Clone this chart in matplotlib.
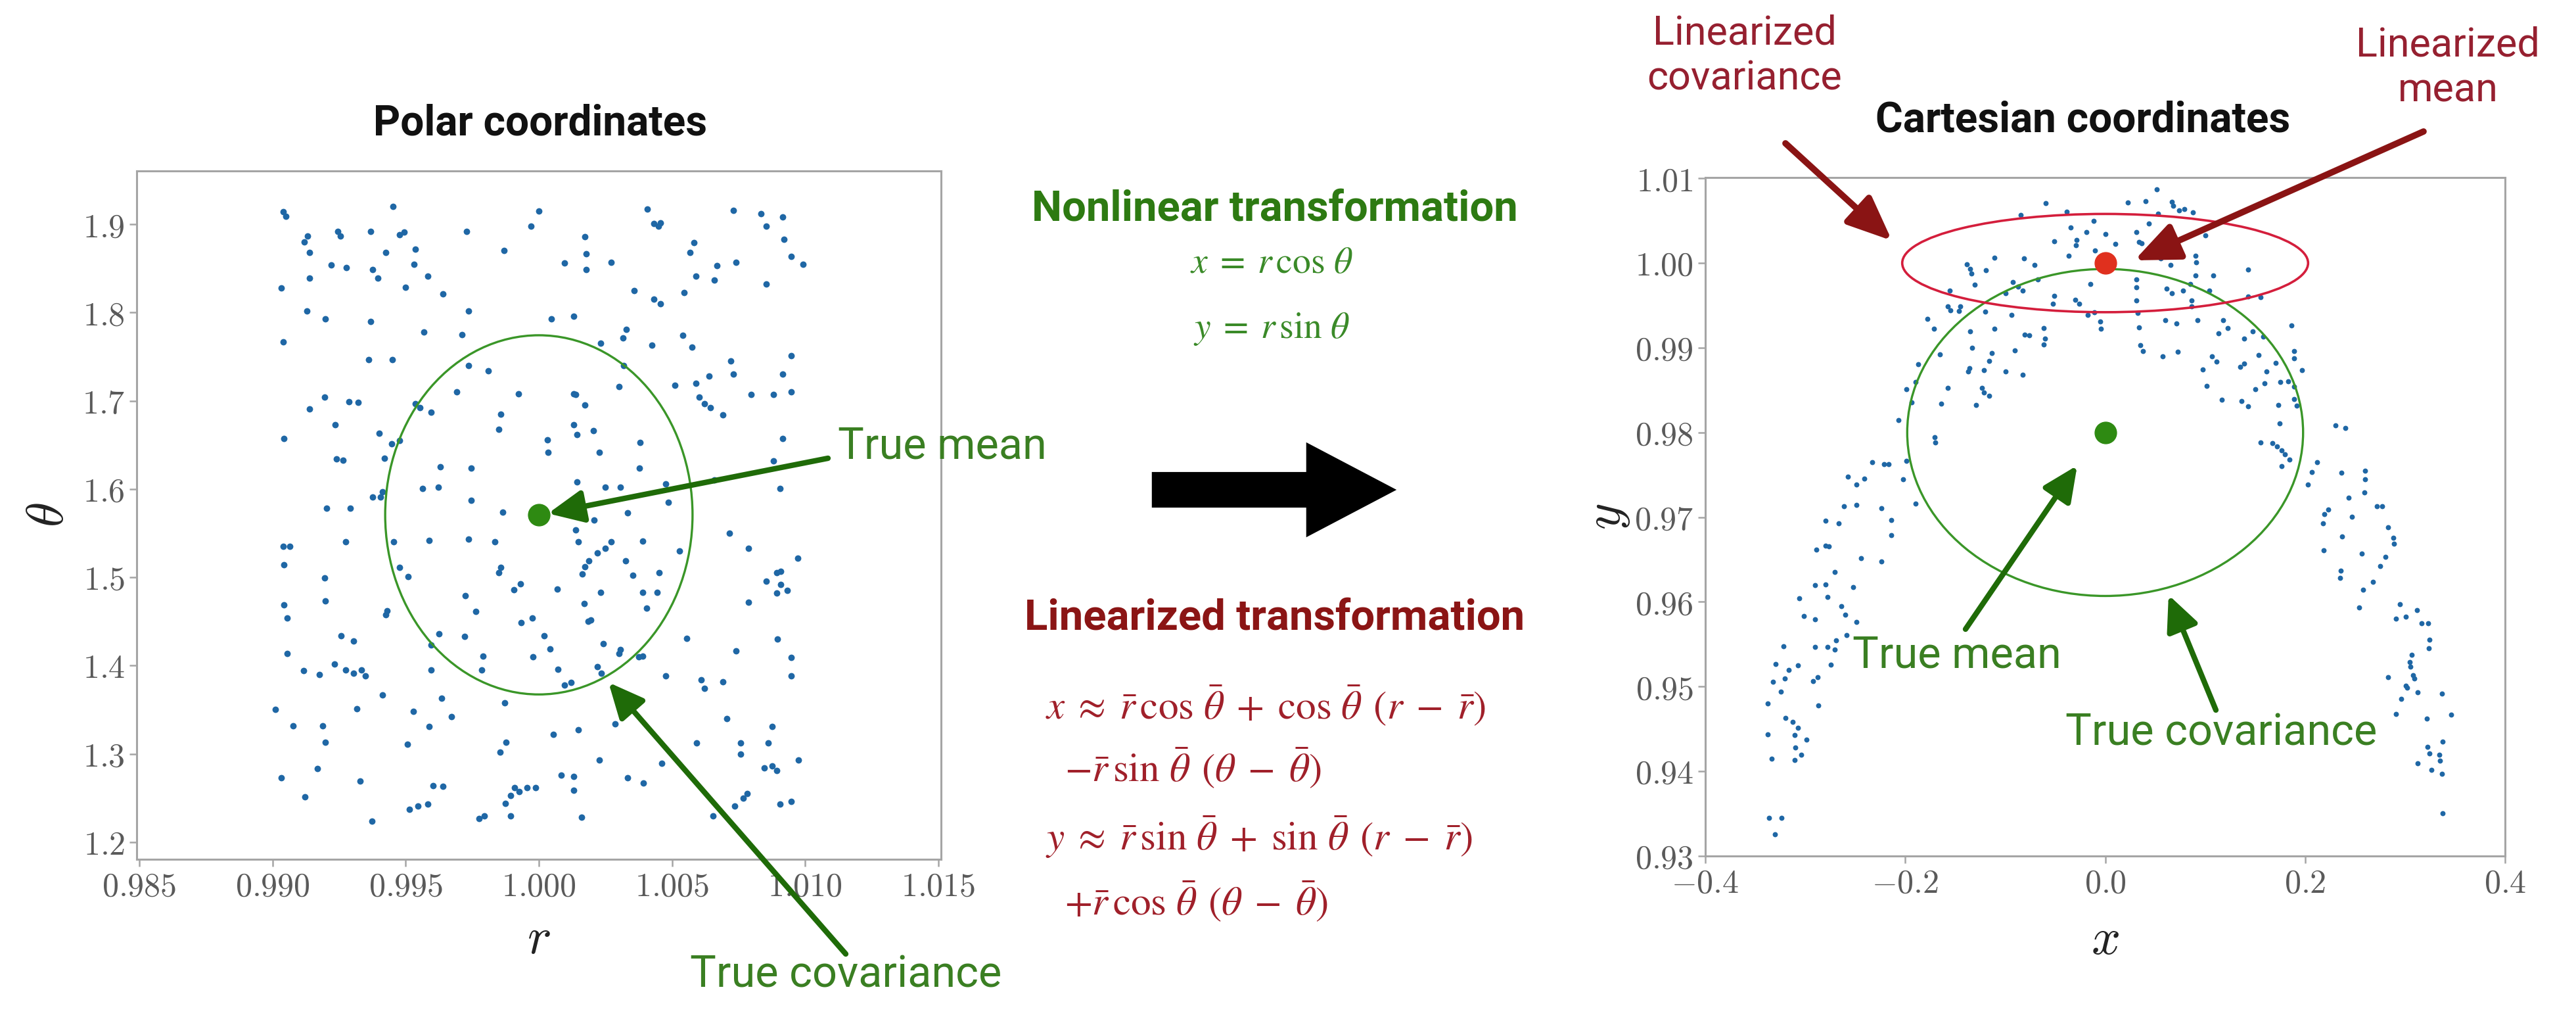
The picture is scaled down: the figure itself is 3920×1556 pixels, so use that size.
import matplotlib
matplotlib.use("Agg")
import matplotlib.pyplot as plt
from matplotlib.patches import Ellipse, FancyArrowPatch

plt.rcParams['font.family'] = ['Roboto', 'DejaVu Sans']
plt.rcParams['mathtext.fontset'] = 'cm'

# ---------------- data ----------------
polar_r = [0.9904, 0.9905, 0.99452, 1.0000, 0.9997, 1.00406, 1.00432, 1.00449, 1.00456, 1.0073,
           1.00834, 1.00916, 1.00853, 0.99728, 0.99369, 0.99244, 0.99254, 0.99131, 0.99119, 0.99478,
           0.99494, 0.99426, 0.99537, 0.9914, 1.00172, 1.00177, 1.00921, 1.00583, 1.00567, 0.99868,
           0.99221, 0.99277, 0.99376, 0.99395, 0.99532, 0.99138, 1.00097, 1.00177, 1.00272, 1.00668,
           1.00739, 1.00947, 1.00992, 1.0059, 1.00659, 1.00853, 0.99034, 0.99499, 0.99584, 0.99639,
           1.00357, 1.00546, 1.00432, 1.00456, 0.99128, 0.99199, 0.99369, 0.99735, 1.00047, 1.0013,
           0.99039, 0.99712, 0.99568, 1.00231, 1.00316, 1.00328, 1.00425, 1.00541, 1.00576, 0.9936,
           0.9945, 0.99735, 0.99811, 1.00319, 1.0072, 1.0073, 1.00947, 1.00916, 1.00638, 1.0051,
           1.0059, 1.00602, 1.00621, 1.00645, 1.00692, 1.00302, 0.99924, 0.99691, 1.0013, 1.00139,
           1.00172, 1.00798, 1.00881, 1.00947, 0.99195, 0.99287, 0.99322, 0.9914, 0.99535, 0.99554,
           0.99596, 0.99856, 0.99235, 1.0013, 1.00144, 1.00205, 0.99849, 0.99400, 0.99043, 1.00033,
           1.00035, 1.0038, 1.00916, 0.99447, 0.99478, 0.9924, 0.99265, 0.99421, 1.00227, 1.00378,
           1.00881, 0.99629, 0.99745, 0.99376, 0.99405, 0.99414, 0.99563, 0.99622, 1.00144, 1.00248,
           1.00305, 1.00475, 1.00487, 1.00659, 1.00905, 0.99204, 0.99291, 0.99747, 0.99865, 1.00208,
           1.00333, 1.00137, 0.99039, 0.99065, 0.99043, 0.99275, 0.99454, 0.99589, 0.99735, 0.99835,
           1.00149, 1.00220, 1.00248, 1.00272, 1.00390, 1.00527, 1.00716, 1.00787, 1.00971, 1.00187,
           1.00172, 1.00163, 0.99476, 0.99509, 0.99195, 0.99858, 0.99849, 0.99932, 0.99906, 1.00068,
           1.00326, 1.00352, 1.00451, 1.00853, 1.00893, 1.00907, 1.00907, 1.00933, 1.00893, 1.00231,
           1.0039, 1.00444, 1.00404, 0.99724, 0.99764, 1.0017, 0.99197, 0.99043, 0.99055, 0.99431,
           0.99426, 1.00787, 0.99934, 0.99976, 1.00184, 1.00196, 0.99624, 0.99721, 1.00019, 0.99258,
           0.99303, 0.99596, 1.00043, 1.00243, 1.00305, 1.00302, 1.00555, 1.00895, 0.99055, 1.00739,
           0.99979, 0.99790, 0.99785, 1.00376, 1.0039, 1.00947, 0.99233, 0.99275, 0.99303, 0.99334,
           0.99348, 0.99117, 0.99176, 0.99596, 1.00071, 1.00097, 1.0012, 1.0022, 1.00234, 1.00475,
           1.00609, 1.00621, 1.00692, 1.00947, 0.99414, 0.99636, 0.99672, 0.99872, 0.99010, 0.99317,
           0.99528, 1.00706, 1.00286, 0.99077, 0.99188, 0.99589, 1.00149, 1.00876, 1.00054, 0.99199,
           0.99506, 0.99877, 0.99854, 1.00593, 1.00758, 1.00758, 1.00862, 1.00975, 1.00227, 1.00461,
           0.99169, 1.00846, 1.00876, 1.00893, 0.99032, 0.99329, 0.99603, 0.99641, 1.00085, 1.00132,
           1.00333, 1.00392, 1.00132, 0.99908, 0.99927, 0.99955, 0.99988, 0.99894, 0.99875, 0.99121,
           1.00782, 1.00768, 1.00735, 1.00947, 1.00905, 0.99513, 0.99547, 0.99582, 0.99894, 0.99776,
           0.99795, 1.00161, 1.00654, 0.99374]
polar_theta = [1.914, 1.909, 1.920, 1.915, 1.898, 1.917, 1.901, 1.898, 1.902, 1.916,
               1.912, 1.908, 1.898, 1.892, 1.892, 1.892, 1.887, 1.887, 1.880, 1.888,
               1.891, 1.868, 1.872, 1.868, 1.886, 1.867, 1.883, 1.879, 1.868, 1.870,
               1.854, 1.851, 1.849, 1.839, 1.855, 1.839, 1.856, 1.849, 1.857, 1.853,
               1.857, 1.864, 1.855, 1.841, 1.837, 1.832, 1.828, 1.829, 1.841, 1.821,
               1.825, 1.823, 1.815, 1.810, 1.802, 1.793, 1.790, 1.802, 1.793, 1.796,
               1.767, 1.775, 1.778, 1.765, 1.771, 1.781, 1.763, 1.774, 1.761, 1.747,
               1.747, 1.740, 1.734, 1.740, 1.745, 1.730, 1.751, 1.730, 1.728, 1.718,
               1.720, 1.704, 1.697, 1.692, 1.684, 1.716, 1.708, 1.710, 1.708, 1.707,
               1.695, 1.707, 1.707, 1.710, 1.704, 1.699, 1.698, 1.691, 1.697, 1.692,
               1.687, 1.685, 1.673, 1.673, 1.662, 1.666, 1.668, 1.663, 1.657, 1.656,
               1.642, 1.653, 1.657, 1.651, 1.655, 1.634, 1.633, 1.635, 1.642, 1.624,
               1.632, 1.625, 1.624, 1.591, 1.591, 1.597, 1.601, 1.602, 1.608, 1.602,
               1.602, 1.606, 1.585, 1.610, 1.601, 1.578, 1.578, 1.587, 1.574, 1.565,
               1.573, 1.554, 1.535, 1.535, 1.514, 1.540, 1.540, 1.542, 1.543, 1.540,
               1.540, 1.528, 1.533, 1.540, 1.541, 1.530, 1.550, 1.533, 1.522, 1.519,
               1.512, 1.504, 1.511, 1.501, 1.499, 1.511, 1.505, 1.493, 1.486, 1.487,
               1.519, 1.502, 1.505, 1.496, 1.505, 1.507, 1.492, 1.485, 1.482, 1.483,
               1.483, 1.483, 1.465, 1.479, 1.461, 1.470, 1.473, 1.469, 1.454, 1.462,
               1.458, 1.472, 1.449, 1.454, 1.450, 1.452, 1.436, 1.433, 1.434, 1.434,
               1.428, 1.423, 1.419, 1.425, 1.418, 1.414, 1.431, 1.430, 1.414, 1.417,
               1.410, 1.411, 1.395, 1.410, 1.411, 1.409, 1.402, 1.395, 1.391, 1.395,
               1.388, 1.394, 1.390, 1.395, 1.396, 1.378, 1.381, 1.399, 1.391, 1.388,
               1.384, 1.374, 1.382, 1.388, 1.367, 1.363, 1.342, 1.358, 1.350, 1.351,
               1.348, 1.340, 1.334, 1.332, 1.332, 1.331, 1.327, 1.331, 1.322, 1.313,
               1.311, 1.313, 1.302, 1.312, 1.312, 1.300, 1.312, 1.293, 1.293, 1.289,
               1.283, 1.284, 1.286, 1.281, 1.273, 1.269, 1.264, 1.263, 1.276, 1.274,
               1.273, 1.267, 1.259, 1.262, 1.257, 1.262, 1.262, 1.253, 1.244, 1.251,
               1.255, 1.250, 1.241, 1.246, 1.243, 1.237, 1.241, 1.243, 1.230, 1.227,
               1.230, 1.228, 1.230, 1.224]

cart_x = [
    -0.0593, -0.0842, -0.0385, -0.0344, -0.0510, -0.0288, -0.0294, -0.0363, -0.1105, -0.0814,
    -0.0704, -0.1382, -0.1354, -0.1341, -0.1194, -0.1305, -0.0925, -0.0870, -0.0828, -0.0676,
    -0.1557, -0.0994, -0.0510, -0.0524, -0.0302, -0.0261, -0.1576, -0.1548, -0.1451, -0.1465,
    -0.1202, -0.0939, -0.1778, -0.1714, -0.1354, -0.1105, -0.0806, -0.0759, -0.0612, -0.0601,
    -0.0612, -0.1332, -0.0906, -0.1651, -0.1133, -0.1161, -0.1360, -0.1368, -0.1216, -0.1867,
    -0.0994, -0.0828, -0.1894, -0.1991, -0.1576, -0.1230, -0.1216, -0.1161, -0.1936, -0.1637,
    -0.1291, -0.2066, -0.1706, -0.1700, -0.2332, -0.2213, -0.2163, -0.1991, -0.2573, -0.2490,
    -0.2407, -0.2019,
    -0.2614, -0.2490, -0.2240, -0.1894, -0.2794, -0.2667, -0.2141, -0.2141, -0.2891, -0.2794,
    -0.2767, -0.2440, -0.2240, -0.2706, -0.2905, -0.2794, -0.2523, -0.3063, -0.2778, -0.2642,
    -0.3016, -0.2600, -0.2490, -0.2905, -0.2587, -0.3218, -0.2900, -0.2780, -0.2692, -0.2706,
    -0.3298, -0.3071, -0.2747, -0.3168, -0.3204, -0.3326, -0.3243, -0.2919, -0.2877, -0.3376,
    -0.2869, -0.3196, -0.3127, -0.3071, -0.3376, -0.3104, -0.2988, -0.3099, -0.3043, -0.3104,
    -0.3334, -0.3362, -0.3237, -0.3301,
    0.0517, 0.0226, 0.0406, 0.0664, 0.0683, 0.0738, 0.0794, 0.0877, 0.0531, -0.0112,
    0.0434, -0.0189, 0.0005, 0.0309, 0.1001, 0.0337, 0.0365, 0.0101, -0.0101, 0.0558,
    0.0655, 0.0724, 0.0904, 0.0913, 0.0904, 0.1084, 0.1431, -0.0148, 0.0309, 0.0309,
    0.0614, 0.0669, 0.0780, 0.0849, 0.1043, 0.0309, 0.0863, 0.1431, 0.1555, 0.0863,
    -0.0175, -0.0106, -0.0051, -0.0045, 0.0323, 0.0337, 0.0600, 0.0711, 0.0924, 0.1181,
    0.1223, 0.1132, 0.1389, 0.1478, 0.1583, 0.1865, 0.0351, 0.0378, 0.0572, 0.0724,
    0.1071, 0.1112, 0.0979, 0.1348, 0.1389, 0.1533, 0.1707, 0.1611, 0.1887, 0.1893,
    0.1971, 0.1015, 0.1500, 0.1597, 0.1755, 0.1832, 0.1893, 0.1168, 0.1361, 0.1431,
    0.1735, 0.1887, 0.1915, 0.1743, 0.2303, 0.2400, 0.1555, 0.1674, 0.1721, 0.1763,
    0.1796, 0.1846, 0.1763, 0.2123, 0.2067, 0.2026, 0.2364, 0.2599, 0.2599, 0.2594,
    0.2436,
    0.2718, 0.2774, 0.2234, 0.2192, 0.2178, 0.2469, 0.2829, 0.2372, 0.2884, 0.2890,
    0.2186, 0.2566, 0.2801, 0.2751, 0.2358, 0.2352, 0.2677, 0.2580, 0.2538, 0.2948,
    0.2912, 0.3009, 0.3120, 0.3167, 0.3230, 0.3244, 0.3239, 0.3064, 0.3050, 0.3056,
    0.3078, 0.3092, 0.2829, 0.3009, 0.3023, 0.3128, 0.3369, 0.2962, 0.2912, 0.3217,
    0.3460, 0.3377, 0.3222, 0.3244, 0.3341, 0.3349, 0.3128, 0.3266, 0.3369, 0.3377]
cart_y = [
    1.00706, 1.00567, 1.00603, 1.00418, 1.00258, 1.00276, 1.00212, 1.00088, 1.00063, 1.00053,
    0.99975, 0.99986, 0.99929, 0.99877, 0.99919, 0.99744, 0.99775, 0.99723, 0.99677, 0.99805,
    0.99677, 0.99646, 0.99615, 0.99517, 0.99569, 0.99517, 0.99492, 0.99440, 0.99492, 0.99435,
    0.99427, 0.99389, 0.99342, 0.99221, 0.99196, 0.99221, 0.99157, 0.99144, 0.99229, 0.99106,
    0.99041, 0.99003, 0.98972, 0.98925, 0.98938, 0.98848, 0.98758, 0.98720, 0.98733, 0.98802,
    0.98720, 0.98681, 0.98596, 0.98514, 0.98527, 0.98527, 0.98475, 0.98437, 0.98359, 0.98341,
    0.98326, 0.98148, 0.97948, 0.97883, 0.97652, 0.97626, 0.97626, 0.97665, 0.97479, 0.97382,
    0.97459, 0.97446,
    0.97133, 0.97146, 0.97105, 0.97160, 0.96958, 0.96930, 0.96966, 0.96786, 0.96614, 0.96662,
    0.96653, 0.96515, 0.96481, 0.96354, 0.96196, 0.96204, 0.96177, 0.96044, 0.96057, 0.95947,
    0.95836, 0.95850, 0.95766, 0.95794, 0.95609, 0.95478, 0.95470, 0.95470, 0.95545, 0.95434,
    0.95270, 0.95254, 0.95262, 0.95193, 0.95096, 0.95054, 0.94944, 0.95068, 0.95110, 0.94799,
    0.94777, 0.94630, 0.94583, 0.94514, 0.94436, 0.94431, 0.94375, 0.94278, 0.94195, 0.94132,
    0.94146, 0.93447, 0.93453, 0.93253,
    1.00868, 1.00714, 1.00732, 1.00721, 1.00675, 1.00624, 1.00637, 1.00598, 1.00585, 1.00500,
    1.00464, 1.00366, 1.00346, 1.00366, 1.00328, 1.00251, 1.00233, 1.00225, 1.00148, 1.00058,
    0.99980, 1.00122, 1.00083, 1.00006, 0.99857, 0.99857, 0.99921, 0.99754, 0.99806, 0.99710,
    0.99697, 0.99646, 0.99672, 0.99749, 0.99672, 0.99556, 0.99556, 0.99607, 0.99594, 0.99492,
    0.99389, 0.99420, 0.99311, 0.99221, 0.99414, 0.99239, 0.99324, 0.99286, 0.99324, 0.99324,
    0.99234, 0.99170, 0.99106, 0.99196, 0.99131, 0.99265, 0.99028, 0.98964, 0.98900, 0.98956,
    0.98895, 0.98835, 0.98745, 0.98771, 0.98810, 0.98913, 0.98823, 0.98720, 0.98964, 0.98874,
    0.98733, 0.98552, 0.98514, 0.98578, 0.98596, 0.98604, 0.98540, 0.98390, 0.98372, 0.98308,
    0.98321, 0.98398, 0.98313, 0.98107, 0.98082, 0.98056, 0.97883, 0.97871, 0.97832, 0.97788,
    0.97742, 0.97678, 0.97600, 0.97652, 0.97536, 0.97382, 0.97523, 0.97549, 0.97446, 0.97292,
    0.97227,
    0.97133, 0.97133, 0.97091, 0.97036, 0.96930, 0.97008, 0.96883, 0.96772, 0.96758, 0.96689,
    0.96606, 0.96570, 0.96531, 0.96426, 0.96371, 0.96282, 0.96238, 0.96143, 0.95936, 0.95969,
    0.95803, 0.95825, 0.95899, 0.95747, 0.95747, 0.95553, 0.95456, 0.95373, 0.95290, 0.95235,
    0.95137, 0.95096, 0.95110, 0.95013, 0.94985, 0.94935, 0.94921, 0.94852, 0.94680, 0.94619,
    0.94666, 0.94353, 0.94292, 0.94209, 0.94195, 0.94126, 0.94098, 0.94015, 0.93974, 0.93503]

polar_mean = (1.0, 1.5708)
polar_cov_halfaxes = (0.00577, 0.2035)
cart_true_mean = (0.0, 0.98)
cart_true_halfaxes = (0.198, 0.0193)
cart_lin_mean = (0.0, 1.0)
cart_lin_halfaxes = (0.203, 0.0058)

polar_xticks = [0.985, 0.990, 0.995, 1.000, 1.005, 1.010, 1.015]
polar_xticklabels = ['0.985', '0.990', '0.995', '1.000', '1.005', '1.010', '1.015']
polar_yticks = [1.2, 1.3, 1.4, 1.5, 1.6, 1.7, 1.8, 1.9]
polar_yticklabels = ['1.2', '1.3', '1.4', '1.5', '1.6', '1.7', '1.8', '1.9']
cart_xticks = [-0.4, -0.2, 0.0, 0.2, 0.4]
cart_xticklabels = ['-0.4', '-0.2', '0.0', '0.2', '0.4']
cart_yticks = [0.93, 0.94, 0.95, 0.96, 0.97, 0.98, 0.99, 1.00, 1.01]
cart_yticklabels = ['0.93', '0.94', '0.95', '0.96', '0.97', '0.98', '0.99', '1.00', '1.01']

# ---------------- styling ----------------
W, H = 3920, 1556
def F(x, y):
    return (x / W, 1 - y / H)

PT_BLUE = '#1f67a5'
GREEN_TXT = '#3a7f22'
GREEN_DARK = '#1f6b08'
GREEN_ELL = '#3a9628'
RED_TXT = '#962030'
RED_DARK = '#8a1414'
RED_ELL = '#d41e3c'
SPINE = '#a5a5a5'
TICKC = '#5a5a5a'

fig = plt.figure(figsize=(W / 100, H / 100), dpi=100)
fig.patch.set_facecolor('white')

axL = fig.add_axes([208 / W, 1 - 1307 / H, (1432 - 208) / W, (1307 - 260) / H])
axR = fig.add_axes([2595 / W, 1 - 1302 / H, (3812 - 2595) / W, (1302 - 270) / H])

def style(ax, xt, xl, yt, yls):
    ax.set_xticks(xt, labels=['$' + s + '$' for s in xl])
    ax.set_yticks(yt, labels=['$' + s + '$' for s in yls])
    for s in ax.spines.values():
        s.set_color(SPINE)
        s.set_linewidth(2.2)
    ax.tick_params(direction='out', length=8, width=1.8, color=SPINE,
                   labelsize=36, labelcolor=TICKC, pad=5)

# Left panel
axL.scatter(polar_r, polar_theta, s=50, color=PT_BLUE, linewidths=0, zorder=2)
axL.add_patch(Ellipse(polar_mean, 2 * polar_cov_halfaxes[0], 2 * polar_cov_halfaxes[1],
                      fill=False, ec=GREEN_ELL, lw=2.4, zorder=3))
axL.scatter([polar_mean[0]], [polar_mean[1]], s=560, color='#2e8a12', zorder=4)
axL.set_xlim(0.9849, 1.0151)
axL.set_ylim(1.1805, 1.9605)
style(axL, polar_xticks, polar_xticklabels, polar_yticks, polar_yticklabels)
axL.set_xlabel('$r$', fontsize=56, color='#222222')
axL.set_ylabel(r'$\theta$', fontsize=56, color='#222222')
axL.xaxis.set_label_coords(0.5, -0.1156)
axL.xaxis.label.set_verticalalignment('center')
axL.yaxis.set_label_coords(-0.1087, 0.5)
axL.yaxis.label.set_verticalalignment('center')

# Right panel
axR.scatter(cart_x, cart_y, s=32, color=PT_BLUE, linewidths=0, zorder=2)
axR.add_patch(Ellipse(cart_true_mean, 2 * cart_true_halfaxes[0], 2 * cart_true_halfaxes[1],
                      fill=False, ec=GREEN_ELL, lw=2.4, zorder=3))
axR.add_patch(Ellipse(cart_lin_mean, 2 * cart_lin_halfaxes[0], 2 * cart_lin_halfaxes[1],
                      fill=False, ec=RED_ELL, lw=2.6, zorder=3))
axR.scatter([cart_true_mean[0]], [cart_true_mean[1]], s=560, color='#2e8a12', zorder=4)
axR.scatter([cart_lin_mean[0]], [cart_lin_mean[1]], s=560, color='#e0301e', zorder=4)
axR.set_xlim(-0.4, 0.4)
axR.set_ylim(0.93, 1.0101)
style(axR, cart_xticks, cart_xticklabels, cart_yticks, cart_yticklabels)
axR.set_xlabel('$x$', fontsize=56, color='#222222')
axR.set_ylabel('$y$', fontsize=56, color='#222222')
axR.xaxis.set_label_coords(0.5, -0.124)
axR.xaxis.label.set_verticalalignment('center')
axR.yaxis.set_label_coords(-0.123, 0.5)
axR.yaxis.label.set_verticalalignment('center')

# Titles
fig.text(*F(822, 188), 'Polar coordinates', ha='center', va='center',
         fontsize=46, fontweight='bold', color='#111111')
fig.text(*F(3170, 183), 'Cartesian coordinates', ha='center', va='center',
         fontsize=46, fontweight='bold', color='#111111')

# Middle text
fig.text(*F(1940, 318), 'Nonlinear transformation', ha='center', va='center',
         fontsize=47, fontweight='bold', color='#2d7a12')
fig.text(*F(1935, 400), r'$x\;=\;r\,\cos\,\theta$', ha='center', va='center',
         fontsize=40, color='#3a8a28', math_fontfamily='stix')
fig.text(*F(1935, 500), r'$y\;=\;r\,\sin\,\theta$', ha='center', va='center',
         fontsize=40, color='#3a8a28', math_fontfamily='stix')
fig.text(*F(1940, 940), 'Linearized transformation', ha='center', va='center',
         fontsize=47, fontweight='bold', color='#8b1515')
lin_lines = [
    (1591, 1073, r'$x\;\approx\;\bar{r}\,\cos\,\bar{\theta}\;+\;\cos\,\bar{\theta}\;\,(r\;-\;\bar{r})$'),
    (1620, 1168, r'$-\bar{r}\,\sin\,\bar{\theta}\;\,(\theta\;-\;\bar{\theta})$'),
    (1591, 1273, r'$y\;\approx\;\bar{r}\,\sin\,\bar{\theta}\;+\;\sin\,\bar{\theta}\;\,(r\;-\;\bar{r})$'),
    (1620, 1371, r'$+\bar{r}\,\cos\,\bar{\theta}\;\,(\theta\;-\;\bar{\theta})$'),
]
for x, y, s in lin_lines:
    fig.text(*F(x, y), s, ha='left', va='center', fontsize=44,
             color='#a0202a', math_fontfamily='stix')

# Big black arrow
fig.add_artist(FancyArrowPatch(F(1750, 745), F(2128, 745), transform=fig.transFigure,
                               arrowstyle='simple,head_length=0.99,head_width=1.04,tail_width=0.39',
                               mutation_scale=100, color='black', lw=0))

# Annotation texts
fig.text(*F(1275, 680), 'True mean', ha='left', va='center', fontsize=48, color=GREEN_TXT)
fig.text(*F(1050, 1483), 'True covariance', ha='left', va='center', fontsize=48, color=GREEN_TXT)
fig.text(*F(2978, 998), 'True mean', ha='center', va='center', fontsize=48, color=GREEN_TXT)
fig.text(*F(3380, 1115), 'True covariance', ha='center', va='center', fontsize=48, color=GREEN_TXT)
fig.text(*F(2655, 85), 'Linearized\ncovariance', ha='center', va='center', fontsize=44,
         color=RED_TXT, linespacing=1.25)
fig.text(*F(3725, 103), 'Linearized\nmean', ha='center', va='center', fontsize=44,
         color=RED_TXT, linespacing=1.25)

def arrow(p0, p1, color, lw, hl, hw, ms):
    fig.add_artist(FancyArrowPatch(F(*p0), F(*p1), transform=fig.transFigure,
                                   arrowstyle=f'-|>,head_length={hl},head_width={hw}',
                                   mutation_scale=ms, color=color, lw=lw,
                                   shrinkA=0, shrinkB=0, zorder=6))

arrow((1260, 697), (834, 781), GREEN_DARK, 6, 0.65, 0.3, 50)
arrow((1287, 1451), (926, 1038), GREEN_DARK, 6, 0.65, 0.3, 50)
arrow((2991, 957), (3161, 708), GREEN_DARK, 6, 0.65, 0.3, 50)
arrow((3372, 1080), (3300, 905), GREEN_DARK, 6, 0.65, 0.3, 50)
arrow((2717, 218), (2879, 366), RED_DARK, 7, 0.75, 0.32, 55)
arrow((3688, 200), (3248, 396), RED_DARK, 7, 0.75, 0.32, 55)

fig.savefig('out.png', dpi=100, facecolor='white')
